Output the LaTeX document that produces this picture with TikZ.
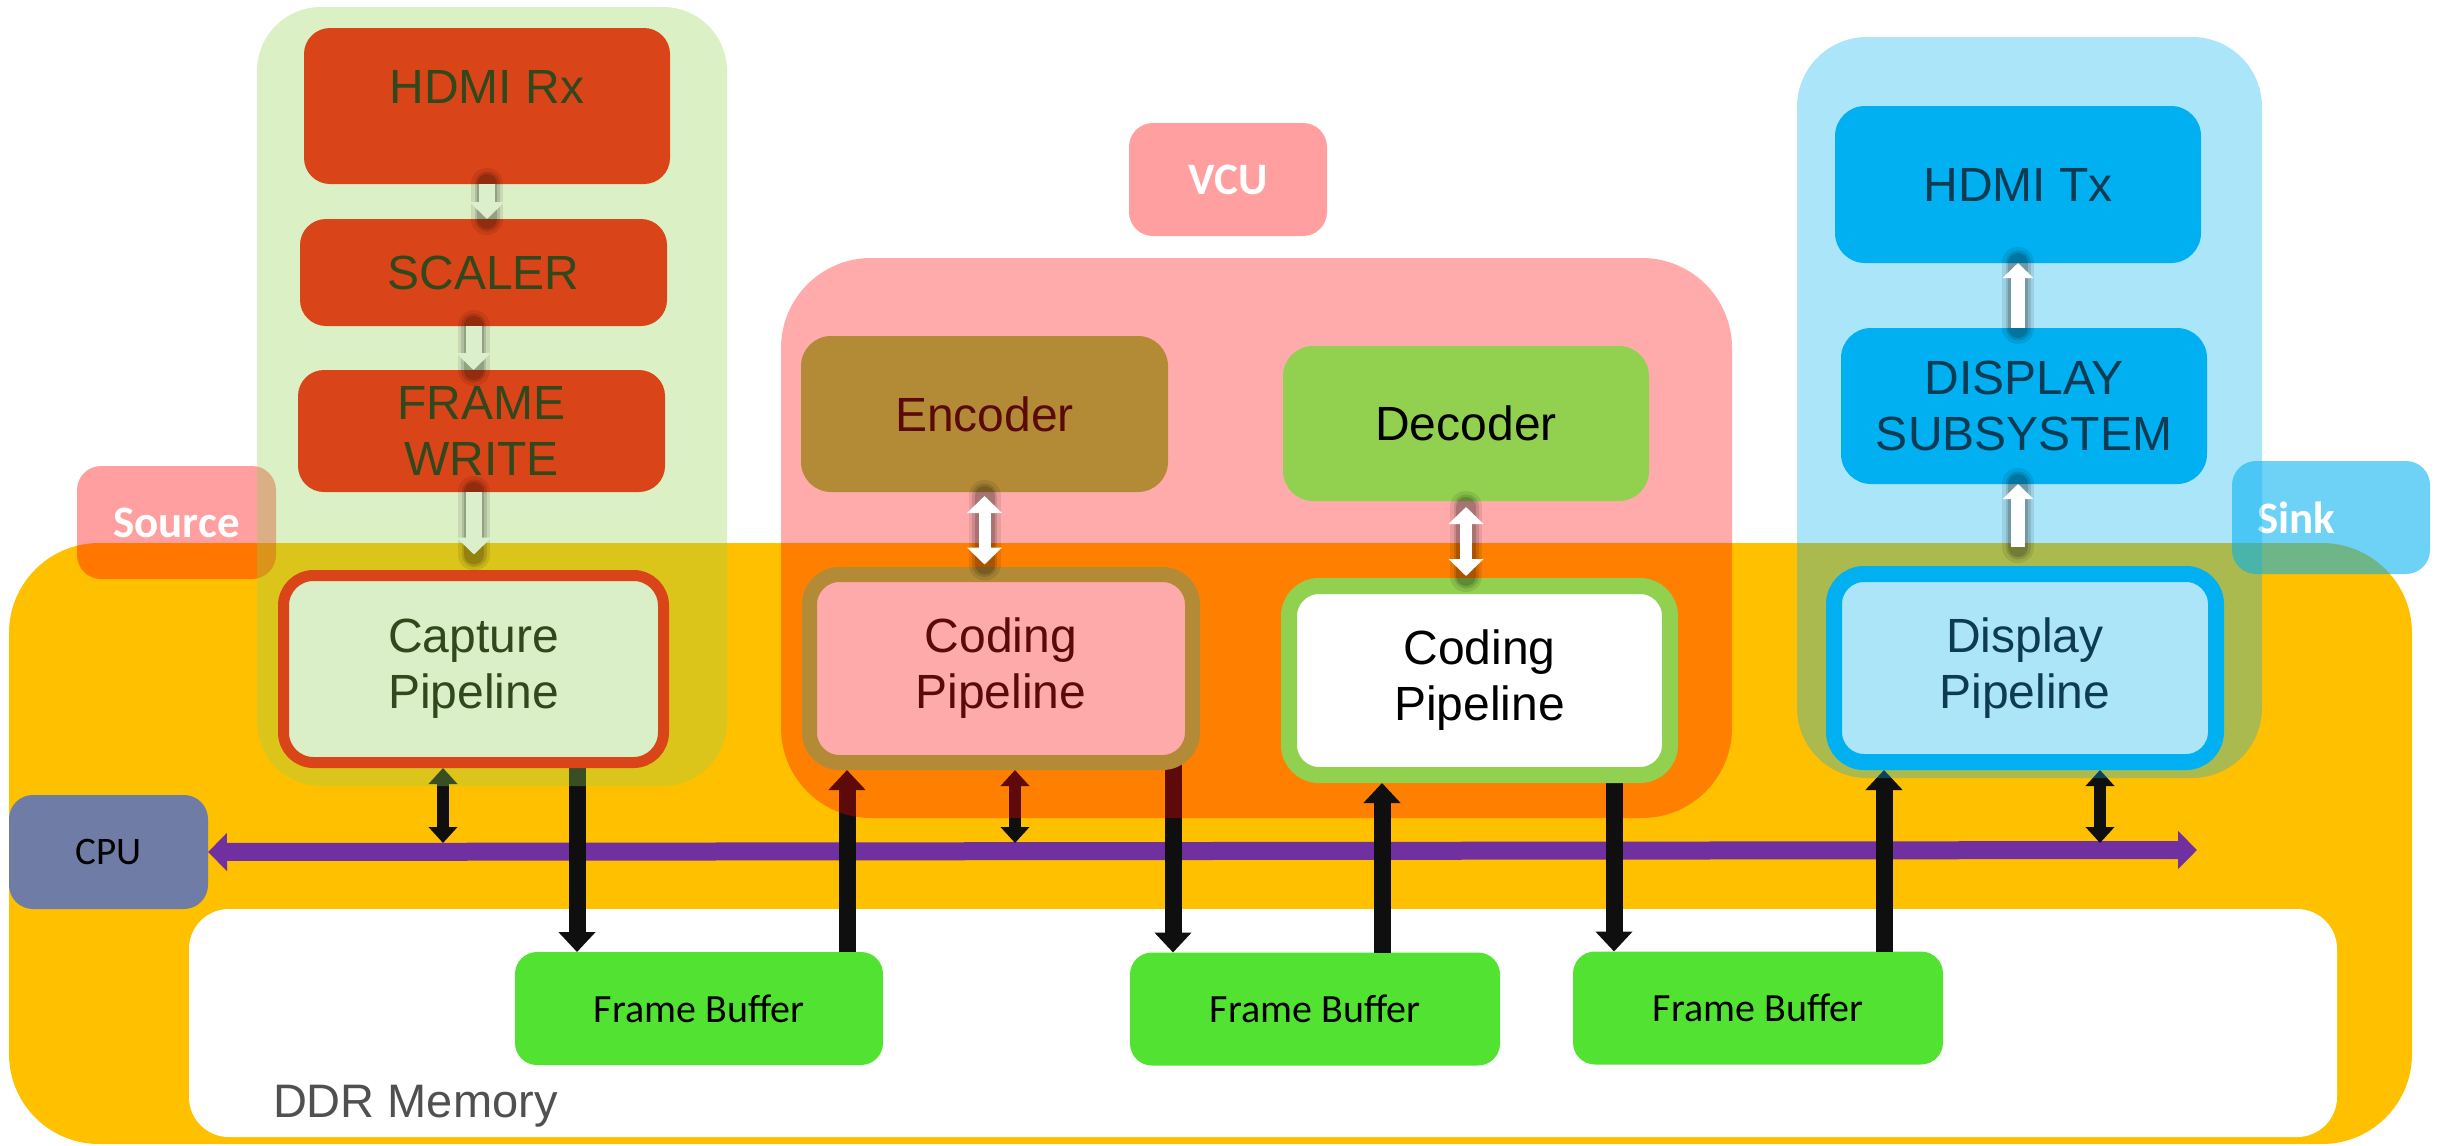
\documentclass[tikz,border=0pt]{standalone}
\usepackage{fontspec}
\setmainfont{Liberation Sans}
\newfontfamily\calfont{Carlito}
\usetikzlibrary{arrows.meta}
\definecolor{socorange}{HTML}{FFC000}
\definecolor{ddrtext}{HTML}{505050}
\definecolor{cpucol}{HTML}{6F7CA6}
\definecolor{buspurple}{HTML}{7030A0}
\definecolor{fbgreen}{HTML}{52E232}
\definecolor{lgreen}{HTML}{92D050}
\definecolor{pblue}{HTML}{00B0F0}
\definecolor{srcbox}{HTML}{DA4419}
\definecolor{srctext}{HTML}{30481C}
\definecolor{capfill}{HTML}{DAEEC8}
\definecolor{encbrown}{HTML}{B38B37}
\definecolor{enctext}{HTML}{5A0A0A}
\definecolor{pinkfill}{HTML}{FFAAAA}
\definecolor{lblue}{HTML}{ADE5F8}
\definecolor{navytext}{HTML}{0D3B54}
\definecolor{srcarrow}{HTML}{DCEFCC}
\definecolor{arrblack}{HTML}{0F0F0F}
\newcommand\glowarrow[3]{%
  \foreach \gw/\go in {16/0.09,12.5/0.12,10/0.16}{\path[draw=black,line width=\gw pt,draw opacity=\go,line cap=round,#1] #3;}
  \draw[#2,#1] #3;}
\begin{document}
\begin{tikzpicture}[x=0.5pt,y=-0.5pt,
  base/.style={inner sep=0pt, outer sep=0pt, align=center},
  arialtxt/.style={font=\fontsize{24pt}{28pt}\selectfont},
  caltxt/.style={font=\calfont\fontsize{20pt}{24pt}\selectfont},
  labeltxt/.style={font=\calfont\bfseries\fontsize{22.5pt}{26pt}\selectfont, text=white},
  blockbox/.style={base, arialtxt, rounded corners=13pt},
  grpbox/.style={base, fill opacity=0.33},
  tagbox/.style={base, labeltxt, rounded corners=12pt, text opacity=1},
  fbbox/.style={base, caltxt, fill=fbgreen, rounded corners=11pt, minimum height=56.5pt, minimum width=185pt},
  thickarr/.style={line width=8.5pt, draw=arrblack, -{Triangle[width=18pt,length=10pt]}},
  dblarr/.style={line width=6pt, draw=arrblack, {Triangle[width=14pt,length=8pt]}-{Triangle[width=14pt,length=8pt]}},
  srcarr/.style={line width=8pt, draw=srcarrow, -{Triangle[width=17pt,length=8.5pt]}},
  vcuarr/.style={line width=6pt, draw=white, {Triangle[width=17pt,length=8.5pt]}-{Triangle[width=17pt,length=8.5pt]}},
  sinkarr/.style={line width=7pt, draw=white, -{Triangle[width=15pt,length=7.5pt]}},
  busline/.style={line width=9pt, draw=buspurple, {Triangle[width=18.5pt,length=9.5pt]}-{Triangle[width=18.5pt,length=9.5pt]}}
]
\useasboundingbox (0,0) rectangle (2443,1146);

% SoC background and memory
\node[base, fill=socorange, rounded corners=45pt, minimum width=1201.5pt, minimum height=300.5pt] (soc) at (1210.5,843.5) {};
\node[base, fill=white, rounded corners=20pt, minimum width=1074pt, minimum height=114pt] (ddr) at (1263,1023) {};
\node[base, anchor=base west, text=ddrtext, font=\fontsize{23.5pt}{28pt}\selectfont] (ddrtext) at (273,1117) {DDR Memory};

\node[fbbox, minimum width=184pt] (fb1) at (699,1008.5) {Frame Buffer};
\node[fbbox] (fb2) at (1315,1009) {Frame Buffer};
\node[fbbox] (fb3) at (1758,1008) {Frame Buffer};

\node[base, fill=cpucol, rounded corners=12pt, minimum width=99.5pt, minimum height=57pt, font=\calfont\fontsize{19.5pt}{24pt}\selectfont] (cpu) at (108.5,852) {CPU};

% bus
\coordinate (busend) at (2197,850);
\coordinate (tap1) at (443,843);
\coordinate (tap2) at (1015,843);
\coordinate (tap3) at (2100,843);
\draw[busline] (cpu.east) -- (busend);

% placeholders for boxes to draw arrows (boxes drawn later)
\path (473.5,669) node[base, minimum width=190pt, minimum height=93.5pt] (capture) {};
\path (1001,668.5) node[base, minimum width=191.5pt, minimum height=94pt] (cp1) {};
\path (1479.5,680.5) node[base, minimum width=190.5pt, minimum height=94.5pt] (cp2) {};
\path (2025,668) node[base, minimum width=191pt, minimum height=94pt] (dpipe) {};

% black data arrows (under the group tints)
\draw[dblarr, shorten <=2.75pt] ([xshift=-15.25pt]capture.south) -- (tap1);
\draw[thickarr] ([xshift=51.75pt]capture.south) -- ([xshift=-61pt]fb1.north);
\draw[thickarr, shorten >=3.75pt] ([xshift=74pt]fb1.north) -- ([xshift=-77pt]cp1.south);
\draw[dblarr, shorten <=3.75pt] ([xshift=7pt]cp1.south) -- (tap2);
\draw[thickarr] ([xshift=86pt]cp1.south) -- ([xshift=-71pt]fb2.north);
\draw[thickarr, shorten >=4pt] ([xshift=63pt]fb3.north) -- ([xshift=-70.5pt]dpipe.south);
\draw[dblarr, shorten <=4pt] ([xshift=37.5pt]dpipe.south) -- (tap3);

% tags
\node[tagbox, fill=red, fill opacity=0.375, minimum width=99.5pt, minimum height=56.5pt] (srclabel) at (176.5,522.5) {Source};
\node[tagbox, fill=red, fill opacity=0.375, minimum width=99pt, minimum height=56.5pt] (vculabel) at (1228,179.5) {VCU};
\node[tagbox, fill=pblue, fill opacity=0.57, minimum width=99pt, minimum height=56.5pt, text width=74pt, align=left] (sinklabel) at (2331,517.5) {Sink};

% groups
\node[grpbox, fill=lgreen, rounded corners=32pt, minimum width=235pt, minimum height=389.5pt] (srcgrp) at (492,396.5) {};
\node[grpbox, fill=red, rounded corners=45pt, minimum width=475.5pt, minimum height=280pt] (vcugrp) at (1256.5,538) {};
\node[grpbox, fill=pblue, rounded corners=35pt, minimum width=232.5pt, minimum height=370.5pt] (sinkgrp) at (2029.5,407.5) {};

% black data arrows of the decoder pipeline (over the tint)
\draw[thickarr, shorten >=4pt] ([xshift=33.5pt]fb2.north) -- ([xshift=-48.75pt]cp2.south);
\draw[thickarr] ([xshift=67.25pt]cp2.south) -- ([xshift=-72pt]fb3.north);

% source column
\node[blockbox, fill=srcbox, text=srctext, minimum width=183pt, minimum height=78pt, text height=17pt, text depth=19.8pt] (hdmirx) at (487,106) {HDMI Rx};
\node[blockbox, fill=srcbox, text=srctext, minimum width=183.5pt, minimum height=53.5pt] (scaler) at (483.5,272.5) {SCALER};
\node[blockbox, fill=srcbox, text=srctext, minimum width=183.5pt, minimum height=61pt] (fwrite) at (481.5,431) {FRAME\\WRITE};
\node[blockbox, fill=capfill, draw=srcbox, line width=5.5pt, rounded corners=15pt, text=srctext, minimum width=190pt, minimum height=93.5pt] at (capture.center) {Capture\\Pipeline};

% VCU
\node[blockbox, fill=encbrown, text=enctext, rounded corners=15pt, minimum width=183.5pt, minimum height=78pt] (encoder) at (984.5,414) {Encoder};
\node[blockbox, fill=lgreen, text=black, rounded corners=15pt, minimum width=183pt, minimum height=77.5pt] (decoder) at (1466,423.5) {Decoder};
\node[blockbox, fill=pinkfill, draw=encbrown, line width=7.5pt, rounded corners=15pt, text=enctext, minimum width=191.5pt, minimum height=94pt] at (cp1.center) {Coding\\Pipeline};
\node[blockbox, fill=white, draw=lgreen, line width=8pt, rounded corners=15pt, text=black, minimum width=190.5pt, minimum height=94.5pt] at (cp2.center) {Coding\\Pipeline};

% sink column
\node[blockbox, fill=pblue, text=navytext, rounded corners=15pt, minimum width=183pt, minimum height=78.5pt] (hdmitx) at (2018,184.5) {HDMI Tx};
\node[blockbox, fill=pblue, text=navytext, rounded corners=15pt, minimum width=183pt, minimum height=78pt] (dss) at (2024,406) {DISPLAY\\SUBSYSTEM};
\node[blockbox, fill=lblue, draw=pblue, line width=8pt, rounded corners=15pt, text=navytext, minimum width=191pt, minimum height=94pt] at (dpipe.center) {Display\\Pipeline};

% white flow arrows
\glowarrow{}{srcarr}{(hdmirx.south) -- (hdmirx.south |- scaler.north)}
\glowarrow{}{srcarr}{([xshift=-5pt]scaler.south) -- ([xshift=-5pt]scaler.south |- fwrite.north)}
\glowarrow{shorten >=10.5pt}{srcarr}{([xshift=-3.75pt]fwrite.south) -- ([xshift=-3.75pt]fwrite.south |- capture.north)}
\glowarrow{shorten <=2pt, shorten >=5pt}{vcuarr}{(encoder.south) -- (encoder.south |- cp1.north)}
\glowarrow{shorten <=3pt, shorten >=5pt}{vcuarr}{(decoder.south) -- (decoder.south |- cp2.north)}
\glowarrow{}{sinkarr}{(hdmitx.south |- dss.north) -- (hdmitx.south)}
\glowarrow{shorten <=13.5pt}{sinkarr}{(hdmitx.south |- dpipe.north) -- (hdmitx.south |- dss.south)}
\end{tikzpicture}
\end{document}
